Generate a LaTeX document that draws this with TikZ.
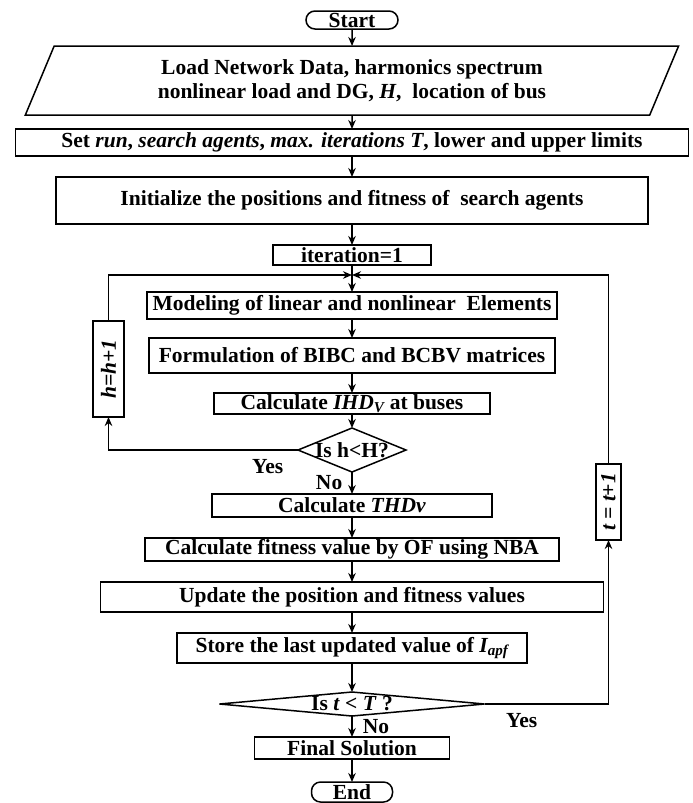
\documentclass[tikz,border=0pt]{standalone}
\usepackage{fontspec}
\usepackage{graphicx}
\setmainfont{Liberation Serif}
\usetikzlibrary{shapes.geometric, arrows.meta, positioning}

\begin{document}
\begin{tikzpicture}[
  x=1pt, y=1pt,
  node distance=21pt,
  font=\fontsize{21.5}{24}\selectfont\bfseries,
  base/.style={draw=black, line width=1.5pt, inner sep=0pt, outer sep=0pt, align=center},
  termbox/.style={base, rectangle, rounded corners=9pt, minimum height=19pt},
  iobox/.style={base, trapezium, trapezium left angle=66, trapezium right angle=114,
                trapezium stretches=true},
  procbox/.style={base, rectangle},
  loopbox/.style={base, rectangle},
  decision/.style={base, diamond},
  lbl/.style={inner sep=0pt},
  arrow/.style={-{Stealth[length=9pt, width=7.5pt]}, line width=1.5pt}
]
\useasboundingbox (0,0) rectangle (693,-803);

% main column
\node[termbox, minimum width=92pt, minimum height=18pt] (start) at (352,-20) {Start};
\node[iobox, minimum width=657pt, minimum height=69pt, below=17pt of start] (data) {%
  Load Network Data, harmonics spectrum\\
  nonlinear load and DG, \textit{H}, \ location of bus};
\node[procbox, minimum width=673pt, minimum height=27pt, below=14pt of data] (set) {%
  Set \textit{run}, \textit{search agents}, \textit{max. iterations T}, lower and upper limits};
\node[procbox, minimum width=592pt, minimum height=47pt, below=of set] (init) {%
  Initialize the positions and fitness of \ search agents};
\node[procbox, minimum width=158pt, minimum height=20pt, below=of init] (iter) {iteration=1};
\coordinate[below=10pt of iter] (jn);
\node[procbox, minimum width=410pt, minimum height=27pt, below=27pt of iter] (model) {%
  Modeling of linear and nonlinear \ Elements};
\node[procbox, minimum width=406pt, minimum height=35pt, below=19pt of model] (form) {%
  Formulation of BIBC and BCBV matrices};
\node[procbox, minimum width=276pt, minimum height=21pt, below=20pt of form] (ihd) {%
  Calculate \textit{IHD\textsubscript{V}} at buses};
\node[decision, minimum width=108pt, minimum height=44pt, below=14pt of ihd,
      label=center:{Is h<H?}] (dech) {};
\node[procbox, minimum width=280pt, minimum height=23pt, below=22pt of dech] (thd) {%
  Calculate \textit{THDv}};
\node[procbox, minimum width=414pt, minimum height=23pt, below=of thd] (fit) {%
  Calculate fitness value by OF using NBA};
\node[procbox, minimum width=503pt, minimum height=30pt, below=of fit] (upd) {%
  Update the position and fitness values};
\node[procbox, minimum width=350pt, minimum height=30pt, below=of upd] (store) {%
  Store the last updated value of \textit{I\textsubscript{apf}}};
\node[decision, minimum width=265pt, minimum height=24pt, below=29pt of store,
      label=center:{Is \textit{t} < \textit{T} ?}] (dect) {};
\node[procbox, minimum width=195pt, minimum height=22pt, below=of dect] (final) {Final Solution};
\node[termbox, minimum width=81pt, minimum height=20pt, below=23pt of final] (end) {End};

% loop counters
\node[loopbox, minimum width=31pt, minimum height=96pt] (hinc) at (108.5,-369) {%
  \rotatebox{90}{\itshape h=h+1}};
\node[loopbox, minimum width=25pt, minimum height=76pt] (tinc) at (608.5,-502) {%
  \rotatebox{90}{\itshape t = t+1}};

% connectors
\draw[arrow] (start) -- (data);
\draw[arrow] (data) -- (set);
\draw[arrow] (set) -- (init);
\draw[arrow] (init) -- (iter);
\draw[arrow] (iter) -- (model);
\draw[arrow] (model) -- (form);
\draw[arrow] (form) -- (ihd);
\draw[arrow] (ihd) -- (dech);
\draw[arrow] (dech.west) -| node[lbl, pos=0.08, below=9pt] {Yes} (hinc.south);
\draw[arrow] (hinc.north) |- (jn);
\draw[arrow] (dech.south) -- node[lbl, left=9pt] {No} (thd.north);
\draw[arrow] (thd) -- (fit);
\draw[arrow] (fit) -- (upd);
\draw[arrow] (upd) -- (store);
\draw[arrow] (store) -- (dect);
\draw[arrow] (dect.east) -| node[lbl, pos=0.15, below=9pt] {Yes} (tinc.south);
\draw[arrow] (tinc.north) |- (jn);
\draw[arrow] (dect.south) -- node[lbl, right=10pt] {No} (final.north);
\draw[arrow] (final) -- (end);
\end{tikzpicture}
\end{document}
